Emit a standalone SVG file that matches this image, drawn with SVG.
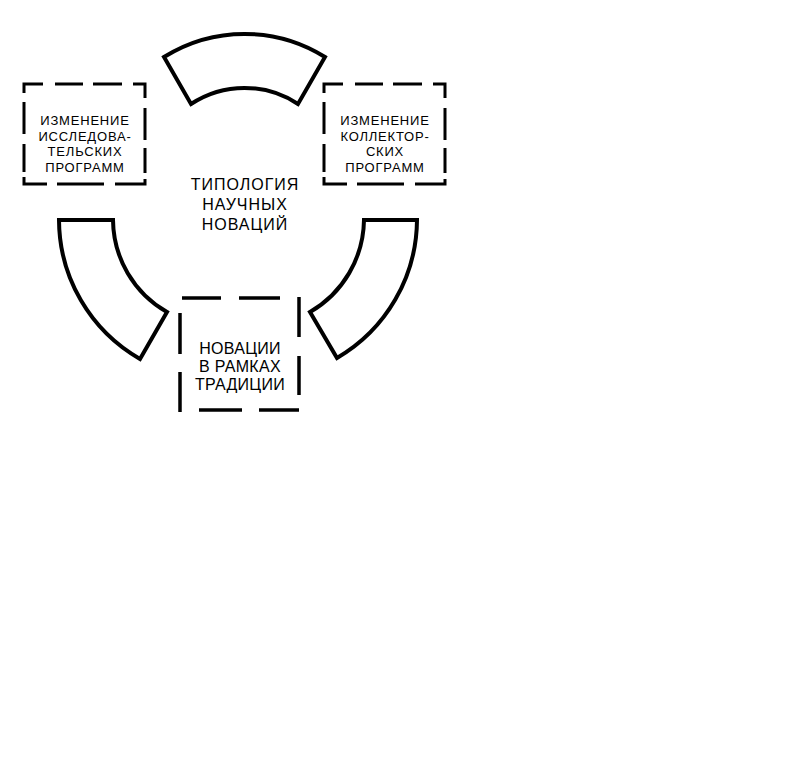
<svg xmlns="http://www.w3.org/2000/svg" width="798" height="761" viewBox="0 0 798 761">
<style>
.arc{fill:none;stroke:#000;stroke-width:4;stroke-linejoin:miter}
.dash{fill:none;stroke:#000;stroke-width:3;stroke-linecap:butt;stroke-linejoin:miter}
.dashb{fill:none;stroke:#000;stroke-width:3.5;stroke-linecap:butt}
.t{font-family:"Liberation Sans",Arial,sans-serif;fill:#000;text-anchor:middle}
.title{font-size:16px;letter-spacing:1px}
.small{font-size:13px;letter-spacing:0.8px}
.mid{font-size:16px;letter-spacing:0.3px}
</style>
<defs>
<path id="sbox" class="dash" d="M24,93 V84 H43 M55,84 H83 M93,84 H122 M133,84 H145 V98 M145,108 V140 M145,148 V173 M145,179 V184 H115 M104,184 H57 M47,184 H24 V177 M24,172 V144 M24,134 V102"/>
</defs>
<rect width="798" height="761" fill="#fff"/>
<g id="connectors">
<path id="arc-top" class="arc" d="M164,57 A152,152 0 0 1 325,57 L298,104 A97,97 0 0 0 191,104 Z"/>
<path id="arc-left" class="arc" d="M59,220 L113,220 A107,107 0 0 0 167,312 L140,359 A161,161 0 0 1 59,220 Z"/>
<path id="arc-right" class="arc" d="M417,220 L364,220 A108,108 0 0 1 310,312 L337,358 A161,161 0 0 0 417,220 Z"/>
</g>
<g id="title">
<text class="t title" x="245" y="190">ТИПОЛОГИЯ</text>
<text class="t title" x="245" y="210">НАУЧНЫХ</text>
<text class="t title" x="245" y="230">НОВАЦИЙ</text>
</g>
<g id="node-research">
<use href="#sbox"/>
<text class="t small" x="85" y="125">ИЗМЕНЕНИЕ</text>
<text class="t small" x="85" y="140.5">ИССЛЕДОВА-</text>
<text class="t small" x="85" y="156">ТЕЛЬСКИХ</text>
<text class="t small" x="85" y="171.5">ПРОГРАММ</text>
</g>
<g id="node-collector">
<use href="#sbox" transform="translate(300,0)"/>
<text class="t small" x="385" y="125">ИЗМЕНЕНИЕ</text>
<text class="t small" x="385" y="140.5">КОЛЛЕКТОР-</text>
<text class="t small" x="385" y="156">СКИХ</text>
<text class="t small" x="385" y="171.5">ПРОГРАММ</text>
</g>
<g id="node-tradition">
<path class="dashb" d="M182,298 H221 M239,298 H280 M299,297 V337 M299,356 V395 M299,410 H259 M242,410 H199 M180,412 V372 M180,354 V313"/>
<text class="t mid" x="240" y="353.5">НОВАЦИИ</text>
<text class="t mid" x="240" y="371.5">В РАМКАХ</text>
<text class="t mid" x="240" y="389.5">ТРАДИЦИИ</text>
</g>
</svg>
